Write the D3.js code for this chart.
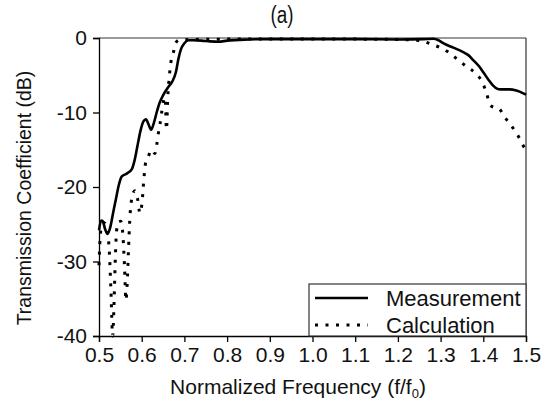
<!DOCTYPE html>
<html>
<head>
<meta charset="utf-8">
<script src="https://cdn.jsdelivr.net/npm/d3@7/dist/d3.min.js"></script>
<style>
  body { margin: 0; background: #fff; }
  svg { display: block; }
</style>
</head>
<body>
<div id="chart"></div>
<script>
// Chart values
const xTicks = [0.5, 0.6, 0.7, 0.8, 0.9, 1.0, 1.1, 1.2, 1.3, 1.4, 1.5];
const yTicks = [0, -10, -20, -30, -40];
const seriesNames = ['Measurement', 'Calculation'];

const measFreq = [0.500, 0.505, 0.509, 0.514, 0.520, 0.526, 0.533, 0.540, 0.547, 0.553,
    0.565, 0.577, 0.583, 0.590, 0.597, 0.604, 0.610, 0.616, 0.622, 0.628,
    0.635, 0.642, 0.650, 0.662, 0.672, 0.680, 0.686, 0.692, 0.700, 0.710,
    0.720, 0.740, 0.760, 0.780, 0.800, 0.850, 0.900, 1.000, 1.100, 1.200,
    1.260, 1.283, 1.295, 1.306, 1.330, 1.353, 1.365, 1.377, 1.390, 1.400,
    1.412, 1.423, 1.432, 1.440, 1.462, 1.475, 1.485, 1.500];
const measDb = [-25.8, -24.5, -24.6, -25.6, -26.3, -25.5, -23.5, -21.5, -19.6, -18.6,
    -18.2, -17.6, -16.5, -14.5, -12.5, -11.2, -10.9, -11.6, -12.3, -11.5,
    -10.0, -8.7, -7.7, -6.6, -5.8, -4.6, -2.8, -1.5, -0.7, -0.3,
    -0.3, -0.35, -0.45, -0.5, -0.35, -0.2, -0.15, -0.15, -0.15, -0.2,
    -0.15, -0.1, -0.3, -0.7, -1.3, -1.9, -2.3, -3.0, -3.8, -4.6,
    -5.6, -6.4, -6.8, -6.9, -6.9, -7.0, -7.2, -7.6];

const calcFreq = [0.500, 0.502, 0.506, 0.512, 0.518, 0.524, 0.528, 0.532, 0.535, 0.538,
    0.541, 0.545, 0.551, 0.556, 0.560, 0.563, 0.566, 0.569, 0.572, 0.577,
    0.584, 0.590, 0.596, 0.601, 0.605, 0.609, 0.615, 0.623, 0.631, 0.635,
    0.639, 0.643, 0.647, 0.651, 0.655, 0.658, 0.661, 0.665, 0.668, 0.674,
    0.680, 0.690, 0.720, 0.800, 0.900, 1.000, 1.100, 1.200, 1.252, 1.279,
    1.303, 1.322, 1.341, 1.361, 1.381, 1.399, 1.408, 1.416, 1.425, 1.435,
    1.451, 1.466, 1.482, 1.494, 1.500];
const calcDb = [-30.5, -27.5, -25.3, -24.8, -25.5, -28.5, -34.0, -40.0, -36.0, -30.0,
    -26.0, -24.7, -24.6, -26.5, -31.0, -35.2, -33.0, -28.5, -24.5, -21.5,
    -20.5, -21.5, -23.5, -22.0, -19.0, -16.8, -16.0, -15.0, -15.5, -14.4,
    -12.8, -11.5, -9.9, -8.5, -8.0, -12.3, -8.0, -5.0, -3.4, -2.0,
    -0.6, -0.25, -0.2, -0.15, -0.15, -0.15, -0.15, -0.2, -0.35, -0.85,
    -1.4, -2.05, -2.95, -3.85, -4.7, -6.1, -7.5, -9.0, -9.3, -9.4,
    -10.7, -11.8, -13.2, -14.5, -15.0];

const measData = measFreq.map((f, i) => ({ f: f, db: measDb[i] }));
const calcData = calcFreq.map((f, i) => ({ f: f, db: calcDb[i] }));

const width = 549, height = 401;
const margin = { top: 38, right: 23, bottom: 65, left: 99 };
const font = "'Liberation Sans', Arial, sans-serif";

const svg = d3.select('#chart')
    .append('svg')
    .attr('width', width)
    .attr('height', height)
    .style('font-family', font);

const xScale = d3.scaleLinear()
    .domain([0.5, 1.5])
    .range([margin.left, width - margin.right]);

const yScale = d3.scaleLinear()
    .domain([-40, 0])
    .range([height - margin.bottom, margin.top]);

// Frame: top (grey) and right borders
svg.append('line')
    .attr('x1', xScale(0.5)).attr('x2', xScale(1.5))
    .attr('y1', yScale(0)).attr('y2', yScale(0))
    .attr('stroke', '#777').attr('stroke-width', 1.5);
svg.append('line')
    .attr('x1', xScale(1.5)).attr('x2', xScale(1.5))
    .attr('y1', yScale(0)).attr('y2', yScale(-40))
    .attr('stroke', '#333').attr('stroke-width', 1.2);

// Axes
const xAxisG = svg.append('g')
    .attr('transform', `translate(0,${yScale(-40)})`)
    .call(d3.axisBottom(xScale).tickValues(xTicks).tickSize(6).tickFormat(d => d.toFixed(1)));
xAxisG.selectAll('text')
    .attr('y', 25.5).attr('dy', 0)
    .attr('fill', '#111')
    .attr('font-size', '21px')
    .attr('font-family', font);

// plain hyphen for negative labels, as in the original figure
const yAxisG = svg.append('g')
    .attr('transform', `translate(${xScale(0.5)},0)`)
    .call(d3.axisLeft(yScale).tickValues(yTicks).tickSize(6).tickPadding(6).tickFormat(d => String(d)));
yAxisG.selectAll('text')
    .attr('fill', '#111')
    .attr('font-size', '21px')
    .attr('font-family', font);

[xAxisG, yAxisG].forEach(g => {
    g.selectAll('line,path').attr('stroke', '#000').attr('stroke-width', 1.3);
});

// Curves
const line = d3.line()
    .x(d => xScale(d.f))
    .y(d => yScale(d.db))
    .curve(d3.curveMonotoneX);

svg.append('path')
    .datum(calcData)
    .attr('d', line)
    .attr('fill', 'none')
    .attr('stroke', '#000')
    .attr('stroke-width', 3)
    .attr('stroke-dasharray', '3 7.5');

svg.append('path')
    .datum(measData)
    .attr('d', line)
    .attr('fill', 'none')
    .attr('stroke', '#000')
    .attr('stroke-width', 2.6);

// Legend
const legend = svg.append('g');
legend.append('rect')
    .attr('x', 309).attr('y', 284)
    .attr('width', xScale(1.5) - 309).attr('height', yScale(-40) - 284)
    .attr('fill', '#fff')
    .attr('stroke', '#333').attr('stroke-width', 1.2);

const legendRows = [
    { name: seriesNames[0], y: 298, dash: null, sw: 2.6 },
    { name: seriesNames[1], y: 325, dash: '3 7.5', sw: 3 }
];
legendRows.forEach(r => {
    legend.append('line')
        .attr('x1', 315).attr('x2', 368)
        .attr('y1', r.y).attr('y2', r.y)
        .attr('stroke', '#000')
        .attr('stroke-width', r.sw)
        .attr('stroke-dasharray', r.dash);
    legend.append('text')
        .attr('x', 386).attr('y', r.y + 8)
        .attr('font-size', '22px')
        .attr('fill', '#111')
        .text(r.name);
});

// Axis titles
const xTitle = svg.append('text')
    .attr('x', 298).attr('y', 394)
    .attr('text-anchor', 'middle')
    .attr('font-size', '21px')
    .attr('fill', '#111');
xTitle.append('tspan').text('Normalized Frequency (f/f');
xTitle.append('tspan').attr('font-size', '13px').attr('dy', 3.5).text('0');
xTitle.append('tspan').attr('dy', -3.5).text(')');

svg.append('text')
    .attr('transform', 'translate(31,198) rotate(-90)')
    .attr('text-anchor', 'middle')
    .attr('font-size', '19.5px')
    .attr('fill', '#111')
    .text('Transmission Coefficient (dB)');

// Panel label
svg.append('text')
    .attr('transform', 'translate(282,23) scale(0.82,1)')
    .attr('text-anchor', 'middle')
    .attr('font-size', '23px')
    .attr('fill', '#111')
    .text('(a)');
</script>
</body>
</html>
